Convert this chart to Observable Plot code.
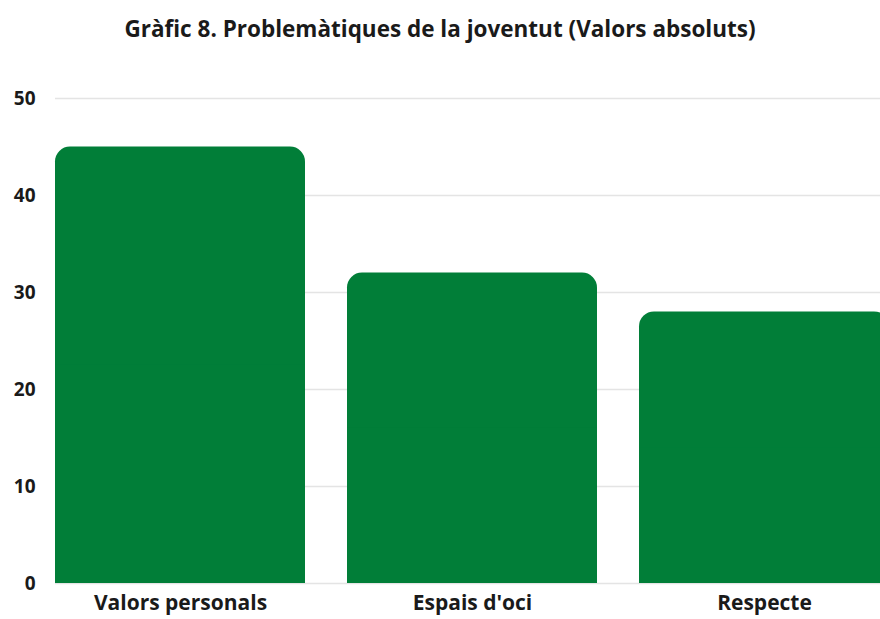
<!DOCTYPE html>
<html>
<head>
<meta charset="utf-8">
<script src="https://cdn.jsdelivr.net/npm/d3@7"></script>
<script src="https://cdn.jsdelivr.net/npm/@observablehq/plot@0.6"></script>
<style>
  html, body { margin: 0; padding: 0; background: #fff; overflow: hidden; }
  #title { height: 60px; line-height: 58px; text-align: center; font-family: "Open Sans", sans-serif; font-weight: 700; font-size: 22.5px; color: #1a1a1a; }
  #chart svg text { font-family: "Open Sans", sans-serif; font-weight: 700; fill: #1a1a1a; }
  #chart g[aria-label="x-axis tick label"] text { font-size: 21px; }
  #chart g[aria-label="y-axis tick label"] text { font-size: 19px; }
</style>
</head>
<body>
<div id="title">Gràfic 8. Problemàtiques de la joventut (Valors absoluts)</div>
<div id="chart"></div>
<script>
const categories = ["Valors personals", "Espais d'oci", "Respecte"];
const values = [45, 32, 28];
const yTicks = [0, 10, 20, 30, 40, 50];

const data = categories.map((c, i) => ({category: c, value: values[i]}));
const green = "#017e38";

const plot = Plot.plot({
  width: 880,
  height: 559,
  marginTop: 38,
  marginBottom: 36,
  marginLeft: 55,
  marginRight: 0,
  style: {fontFamily: "'Open Sans', sans-serif", fontWeight: 700, color: "#1a1a1a", background: "#fff", overflow: "hidden"},
  x: {domain: categories, range: [55, 889], paddingInner: 0.144, paddingOuter: 0, label: null},
  y: {domain: [0, 50], ticks: yTicks, label: null},
  marks: [
    Plot.gridY(yTicks, {stroke: "#e4e4e4", strokeOpacity: 1, strokeWidth: 1.5}),
    Plot.barY(data, {x: "category", y: "value", fill: green, rx: 15}),
    Plot.barY(data, {x: "category", y: d => d.value / 2, fill: green}),
    Plot.axisY({ticks: yTicks, tickSize: 0, tickPadding: 20, fontSize: 19, label: null}),
    Plot.axisX({tickSize: 0, tickPadding: 12, fontSize: 21, label: null})
  ]
});
document.getElementById("chart").appendChild(plot);
</script>
</body>
</html>
